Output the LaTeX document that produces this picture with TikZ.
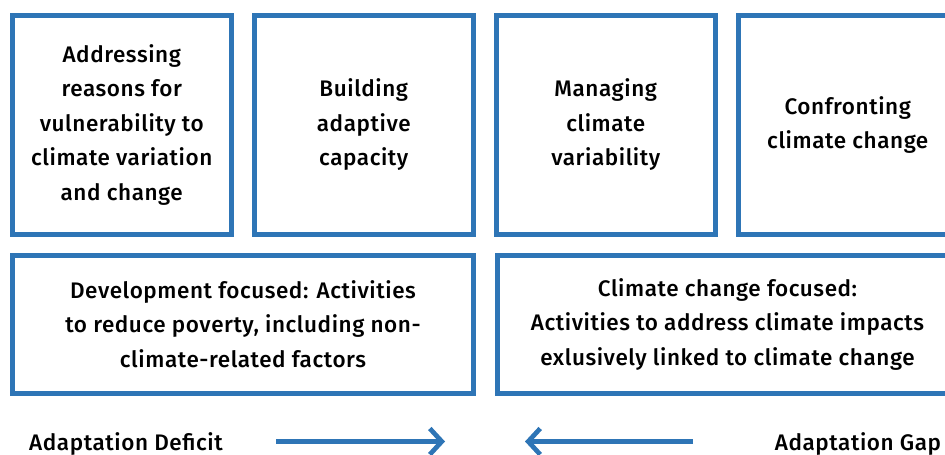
\documentclass[tikz,border=0pt]{standalone}
\usepackage{fontspec}
\setmainfont{Fira Sans Medium}[LetterSpace=2.5]
\usetikzlibrary{positioning,arrows.meta}
\definecolor{adaptblue}{RGB}{46,117,182}
\tikzset{
  box text/.style={
    font=\fontsize{22.5}{34.5}\selectfont,
    align=center,
  },
  top box/.style={
    box text,
    draw=adaptblue,
    line width=5pt,
    minimum width=218.5pt,
    minimum height=219.5pt,
    inner sep=0pt,
  },
  wide box/.style={
    top box,
    minimum width=461pt,
    minimum height=138pt,
  },
  gap arrow/.style={
    adaptblue,
    line width=4.7pt,
    -{Straight Barb[length=12pt,width=26pt]},
  }
}

\begin{document}
\begin{tikzpicture}[x=1pt,y=-1pt]
\clip (0,0) rectangle (945,455);

\node[top box] (reasons) at (121.75,124.75)
  {Addressing\\reasons for\\vulnerability to\\climate variation\\and change};
\node[top box, right=18.5pt of reasons] (capacity) {Building\\adaptive\\capacity};
\node[top box, right=18.5pt of capacity] (variability) {Managing\\climate\\variability};
\node[top box, right=18.5pt of variability] (confronting) {Confronting\\climate change};

\node[wide box, below right=15.5pt and 0pt of reasons.south west] (development)
  {Development focused: Activities\\to reduce poverty, including non-\\climate-related factors};
\node[wide box, right=18.5pt of development] (focused)
  {Climate change focused:\\Activities to address climate impacts\\exlusively linked to climate change};

\node[box text, anchor=base] (deficit) at (126,450) {Adaptation Deficit};
\node[box text, anchor=base] (gap) at (858,450) {Adaptation Gap};

\coordinate (deficit start) at (276,441.5);
\coordinate (deficit end) at (445,441.5);
\coordinate (gap start) at (693,441.5);
\coordinate (gap end) at (525,441.5);
\draw[gap arrow] (deficit start) -- (deficit end);
\draw[gap arrow] (gap start) -- (gap end);

\end{tikzpicture}
\end{document}
